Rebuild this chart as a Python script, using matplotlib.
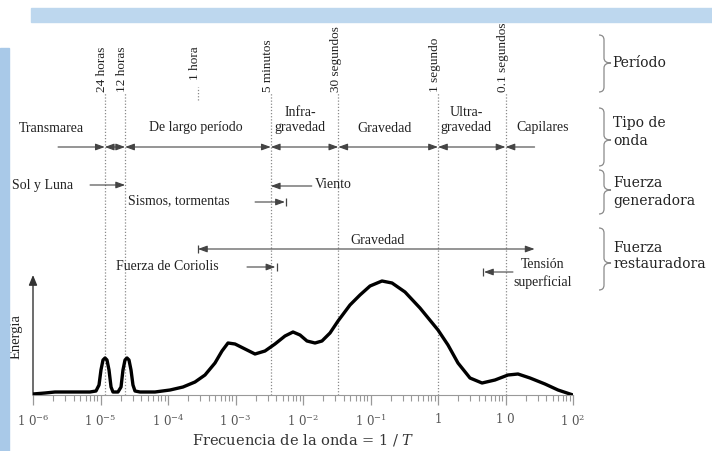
import numpy as np
import matplotlib.pyplot as plt
from matplotlib import ticker
from matplotlib.patches import Rectangle, PathPatch
from matplotlib.path import Path

plt.rcParams['mathtext.fontset'] = 'dejavuserif'

# energy spectrum of ocean waves: log10(frequency [Hz]) vs relative energy
log_freq = [-6.000, -5.822, -5.674, -5.156, -5.067, -5.022, -4.993, -4.963, -4.933,
            -4.904, -4.874, -4.844, -4.815, -4.741, -4.696, -4.667, -4.637, -4.607,
            -4.578, -4.548, -4.519, -4.489, -4.415, -4.193, -3.970, -3.778, -3.600,
            -3.452, -3.304, -3.200, -3.111, -3.007, -2.859, -2.711, -2.563, -2.415,
            -2.267, -2.148, -2.044, -1.941, -1.822, -1.719, -1.600, -1.481, -1.304,
            -1.156, -1.007, -0.830, -0.681, -0.489, -0.267, 0.000, 0.148, 0.296,
            0.474, 0.652, 0.844, 1.037, 1.185, 1.363, 1.585, 1.778, 2.000]
energy = [1, 2, 3, 3, 4, 10, 25, 35, 37,
          35, 25, 8, 3, 3, 8, 25, 35, 37,
          35, 25, 10, 4, 3, 3, 5, 8, 13,
          20, 32, 44, 52, 51, 46, 41, 44, 51,
          59, 63, 60, 54, 52, 54, 62, 74, 90,
          100, 109, 114, 112, 103, 87, 65, 50, 32,
          17, 12, 15, 20, 21, 17, 11, 5, 0]

# periods marked with dotted lines (seconds)
period_names = ["24 horas", "12 horas", "5 minutos", "30 segundos", "1 segundo", "0.1 segundos"]
period_sec = [86400, 43200, 300, 30, 1, 0.1]

# wave types and where their names sit (Hz)
wave_names = ["Transmarea", "De largo período", "Infra-\ngravedad", "Gravedad",
              "Ultra-\ngravedad", "Capilares"]
wave_pos = [1.9e-6, 2.6e-4, 9.0e-3, 0.16, 2.6, 35.0]
wave_lo, wave_hi = 2.35e-6, 27.0

tick_labels = ["1 0$^{-6}$", "1 0$^{-5}$", "1 0$^{-4}$", "1 0$^{-3}$", "1 0$^{-2}$",
               "1 0$^{-1}$", "1", "1 0", "1 0$^{2}$"]

serif = 'Liberation Serif'
ink = '#222222'
arrow_col = '#444444'

fig = plt.figure(figsize=(7.12, 4.51), dpi=100)

# page decoration
fig.patches.append(Rectangle((31/712, (451-22)/451), 1, 14/451, transform=fig.transFigure,
                             color='#bdd7ee', zorder=0))
fig.patches.append(Rectangle((0, 0), 9/712, (451-48)/451, transform=fig.transFigure,
                             color='#a9c9e8', zorder=0))

ax = fig.add_axes([33/712, 56/451, 540/712, 365/451])
ax.plot(10**np.array(log_freq), energy, color='black', lw=2.4, solid_capstyle='round',
        solid_joinstyle='round', zorder=5)
ax.set_xscale('log')

xt = ax.get_xaxis_transform()


def row(ypx):
    # height in axes fraction for a row placed ypx pixels from the top
    return (395 - ypx) / 365


def arrow(x0, x1, y, style):
    ax.annotate('', xy=(x1, row(y)), xytext=(x0, row(y)), xycoords=xt,
                arrowprops=dict(arrowstyle=style + ',head_length=0.55,head_width=0.2',
                                color=arrow_col, lw=0.8, shrinkA=0, shrinkB=0))


def stopper(x, y):
    ax.plot([x], [row(y)], transform=xt, marker='|', ms=6, mew=0.9, color=arrow_col)


# dotted period lines and their labels
pf = 1 / np.array(period_sec, dtype=float)
ax.vlines(pf, 0, row(93), transform=xt, colors='#8a8a8a', linestyles=(0, (1, 1.5)), lw=0.9)
for name, f in zip(period_names, pf):
    ax.annotate(name, (f, row(92)), xycoords=xt, xytext=(-2, 0), textcoords='offset points',
                rotation=90, ha='center', va='bottom', family=serif, fontsize=9.5, color=ink)
ax.vlines(1/3600, row(100), row(87), transform=xt, colors='#8a8a8a',
          linestyles=(0, (1, 1.5)), lw=0.9)
ax.annotate("1 hora", (1/3600, row(80)), xycoords=xt, xytext=(-2, 0),
            textcoords='offset points', rotation=90, ha='center', va='bottom',
            family=serif, fontsize=9.5, color=ink)

# wave type row
for name, x in zip(wave_names, wave_pos):
    lines = name.split("\n")
    ys = [128] if len(lines) == 1 else [113, 128]
    for txt, y in zip(lines, ys):
        ax.text(x, row(y), txt, transform=xt, ha='center', va='center',
                family=serif, fontsize=10, color=ink)
bounds = [wave_lo] + list(pf) + [wave_hi]
for i in range(len(bounds) - 1):
    style = '<|-|>'
    if i == 0:
        style = '-|>'
    elif i == len(bounds) - 2:
        style = '<|-'
    arrow(bounds[i], bounds[i + 1], 147, style)

# generating forces
ax.text(10**-6.31, row(185), "Sol y Luna", transform=xt, ha='left', va='center',
        family=serif, fontsize=10, color=ink)
arrow(7.0e-6, 1/43200, 185, '-|>')
ax.text(0.0278, row(185), "Viento", transform=xt, ha='center', va='center',
        family=serif, fontsize=10, color=ink)
arrow(0.0135, 1/300, 186, '-|>')
ax.text(10**-3.84, row(201), "Sismos, tormentas", transform=xt, ha='center', va='center',
        family=serif, fontsize=10, color=ink)
arrow(1.95e-3, 5.4e-3, 202, '-|>')
stopper(5.6e-3, 202)

# restoring forces
ax.text(0.129, row(240), "Gravedad", transform=xt, ha='center', va='center',
        family=serif, fontsize=10, color=ink)
arrow(1/3600, wave_hi, 249, '<|-|>')
stopper(1/3600, 249)
ax.text(10**-4.015, row(267), "Fuerza de Coriolis", transform=xt, ha='center', va='center',
        family=serif, fontsize=10, color=ink)
arrow(1.48e-3, 3.9e-3, 267, '-|>')
stopper(4.1e-3, 267)
ax.text(10**1.55, row(265), "Tensión", transform=xt, ha='center', va='center',
        family=serif, fontsize=10, color=ink)
ax.text(10**1.55, row(282), "superficial", transform=xt, ha='center', va='center',
        family=serif, fontsize=10, color=ink)
arrow(12.9, 4.8, 272, '-|>')
stopper(4.6, 272)

# energy axis drawn as an arrow
ax.annotate('', xy=(0, row(275)), xytext=(0, 0), xycoords='axes fraction',
            arrowprops=dict(arrowstyle='-|>,head_length=0.6,head_width=0.25',
                            color='#333333', lw=1, shrinkA=0, shrinkB=0))
ax.text((16 - 33) / 540, row(337), "Energía", transform=ax.transAxes, rotation=90,
        ha='center', va='center', family=serif, fontsize=10.5, color=ink)

ax.set_xlim(1e-6, 1e2)
ax.set_ylim(0, 365)
for s in ['left', 'top', 'right']:
    ax.spines[s].set_visible(False)
ax.spines['bottom'].set_color('#999999')
ax.set_yticks([])
ax.set_xticks([10.0**k for k in range(-6, 3)])
ax.set_xticklabels(tick_labels, family='DejaVu Serif')
ax.xaxis.set_minor_locator(ticker.LogLocator(base=10, subs=np.arange(2, 10), numticks=100))
ax.xaxis.set_minor_formatter(ticker.NullFormatter())
ax.tick_params(axis='x', which='major', direction='out', length=7, width=0.9,
               color='#999999', labelsize=8.5, labelcolor='#555555', pad=6)
ax.tick_params(axis='x', which='minor', direction='out', length=4, width=0.8,
               color='#999999')
ax.set_xlabel("Frecuencia de la onda = 1 / $T$", family='DejaVu Serif', fontsize=10.5,
              color='#333333', labelpad=2)

# right-hand braces and category names, in pixel coordinates
deco = fig.add_axes([0, 0, 1, 1], zorder=-1)
deco.set_xlim(0, 712)
deco.set_ylim(451, 0)
deco.axis('off')


def brace(top, bottom, tip, x0=599, xm=604, xt_=611, r=5):
    verts = [(x0, top), (xm, top), (xm, top + r),
             (xm, tip - r), (xm, tip), (xt_, tip),
             (xm, tip), (xm, tip + r),
             (xm, bottom - r), (xm, bottom), (x0, bottom)]
    codes = [Path.MOVETO, Path.CURVE3, Path.CURVE3,
             Path.LINETO, Path.CURVE3, Path.CURVE3,
             Path.CURVE3, Path.CURVE3,
             Path.LINETO, Path.CURVE3, Path.CURVE3]
    deco.add_patch(PathPatch(Path(verts, codes), fill=False, edgecolor='#8a8a8a', lw=0.9))


brace(35, 92, 63)
brace(108, 166, 140)
brace(170, 214, 190)
brace(228, 290, 263)

right_font = dict(family='DejaVu Serif', fontsize=10, color=ink, va='center', ha='left')
deco.text(612, 63, "Período", **right_font)
deco.text(613, 123, "Tipo de", **right_font)
deco.text(613, 141, "onda", **right_font)
deco.text(613, 183, "Fuerza", **right_font)
deco.text(613, 201, "generadora", **right_font)
deco.text(613, 248, "Fuerza", **right_font)
deco.text(613, 264, "restauradora", **right_font)

fig.savefig("out.png", dpi=100, facecolor='white')
